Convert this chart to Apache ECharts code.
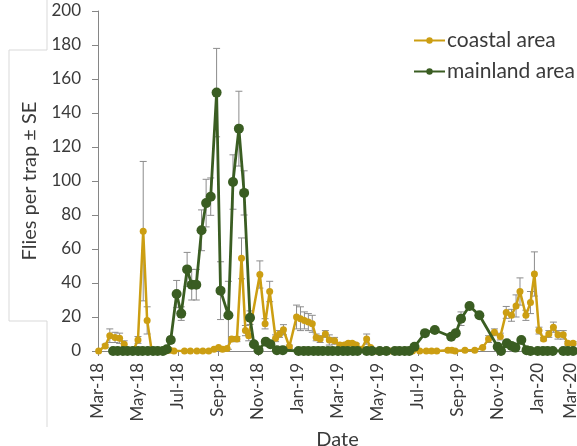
<!DOCTYPE html>
<html>
<head>
<meta charset="utf-8">
<script src="https://cdn.jsdelivr.net/npm/echarts@6/dist/echarts.min.js"></script>
<style>
html,body{margin:0;padding:0;background:#fff;}
#chart{width:577px;height:446px;}
</style>
</head>
<body>
<div id="chart"></div>
<script>
// ---- data ----
const seriesNames = ['coastal area', 'mainland area'];
const monthNames = ['Jan','Feb','Mar','Apr','May','Jun','Jul','Aug','Sep','Oct','Nov','Dec'];
const axisStart = '2018-03-01';
const axisEnd = '2020-03-01';
const tickStepDays = 61;
const yTicks = { min: 0, max: 200, step: 20 };

const coastalDates = ['2018-03-02','2018-03-12','2018-03-19','2018-03-27','2018-04-03','2018-04-10','2018-04-17','2018-04-24','2018-05-01','2018-05-09','2018-05-15','2018-05-22','2018-05-29','2018-06-05','2018-06-12','2018-06-19','2018-06-25','2018-07-11','2018-07-20','2018-07-30','2018-08-08','2018-08-17','2018-08-25','2018-09-01','2018-09-07','2018-09-14','2018-09-21','2018-09-29','2018-10-06','2018-10-12','2018-10-17','2018-11-03','2018-11-11','2018-11-18','2018-11-27','2018-12-03','2018-12-09','2018-12-18','2018-12-29','2019-01-04','2019-01-10','2019-01-16','2019-01-22','2019-01-28','2019-02-03','2019-02-11','2019-02-17','2019-02-25','2019-03-05','2019-03-12','2019-03-18','2019-03-24','2019-03-30','2019-04-07','2019-04-15','2019-04-21','2019-04-28','2019-05-06','2019-05-13','2019-05-20','2019-05-27','2019-06-03','2019-06-10','2019-06-17','2019-06-24','2019-07-05','2019-07-15','2019-07-23','2019-07-31','2019-08-17','2019-08-23','2019-08-28','2019-09-12','2019-09-27','2019-10-09','2019-10-18','2019-10-27','2019-11-05','2019-11-14','2019-11-22','2019-11-29','2019-12-05','2019-12-14','2019-12-21','2019-12-27','2020-01-03','2020-01-10','2020-01-18','2020-01-25','2020-02-01','2020-02-09','2020-02-16','2020-02-24'];
const coastalValues = [0,3,9,8,7.5,4,0.5,0.5,6.5,70.5,18,0,0,0,0,0.5,0,0,0,0,0,0,1,2,1,1.5,7,7,54.5,12,9,45,16,35,7.5,10,12.5,2.5,20,19,18,17,16,8,7,10,6.5,6,3.5,3.5,4.5,4.5,3.5,1,7,2,0,0,0,0,0,0,0,0,0,0,0,0,0,0.5,0.5,0,0.5,0.5,2,7,11,8.5,22.7,21,26.5,35,21,28.5,45.3,12,7,10,14,9.5,9.5,4.5,4.5];
const coastalSE = [0,1,4,3,3,2,0,0,2,41,8,0,0,0,0,0,0,0,0,0,0,0,0,0,0,0,1.5,1.5,12,3,3,8,3,6,2,2,3,1,7,7,5,5,5,2,2,2,3,2,1,1,1,1,1,0,3,0,0,0,0,0,0,0,0,0,0,0,0,0,0,0,0,0,0,0,0.5,2,2,2,3.5,3.5,6.5,8,3,6.5,13,2,1,2,3,2.5,2.5,1,1];

const mainlandDates = ['2018-03-24','2018-03-31','2018-04-08','2018-04-15','2018-04-23','2018-05-01','2018-05-08','2018-05-16','2018-05-24','2018-05-31','2018-06-08','2018-06-14','2018-06-20','2018-06-29','2018-07-06','2018-07-15','2018-07-22','2018-07-29','2018-08-06','2018-08-13','2018-08-20','2018-08-29','2018-09-04','2018-09-16','2018-09-23','2018-10-02','2018-10-10','2018-10-19','2018-10-25','2018-11-01','2018-11-12','2018-11-19','2018-11-29','2018-12-08','2019-01-01','2019-01-09','2019-01-16','2019-01-24','2019-01-31','2019-02-07','2019-02-15','2019-02-22','2019-03-02','2019-03-10','2019-03-17','2019-03-25','2019-04-01','2019-04-15','2019-04-23','2019-05-05','2019-05-15','2019-05-28','2019-06-04','2019-06-12','2019-06-19','2019-06-27','2019-07-13','2019-07-28','2019-08-22','2019-08-29','2019-09-06','2019-09-19','2019-10-04','2019-11-01','2019-11-06','2019-11-15','2019-11-22','2019-11-28','2019-12-07','2019-12-15','2019-12-21','2020-01-01','2020-01-09','2020-01-16','2020-01-24','2020-02-09','2020-02-16','2020-02-24'];
const mainlandValues = [0,0,0,0,0,0,0,0,0,0,0,1,6.5,33.5,22,48,39,39,71,87,90.8,152,35.5,21,99.4,130.8,93,19.6,4,0.5,5.5,4,0.5,0.5,0,0,0,0,0,0,0,0,0,0,0,0,0,0,0,0,0,0,0,0,0,2.5,10.5,12.4,8.4,10.5,19,26.5,21,2.5,0,4.5,3,2,6.5,0.5,0,0,0,0,0,0,0,0];
const mainlandSE = [0,0,0,0,0,0,0,0,0,0,0,0,2,8,4,10,9,9,12,14,11,26,17,20,16,22,13,4,1,0,1,1,0,0,0,0,0,0,0,0,0,0,0,0,0,0,0,0,0,0,0,0,0,0,0,0,1.5,1,1,1,4,2,1,0,0,0,0,0,0,0,0,0,0,0,0,0,0,0];

// ---- helpers ----
const DAY = 86400000;
function parseUTC(s){ const p = s.split('-').map(Number); return Date.UTC(p[0], p[1]-1, p[2]); }
const t0 = parseUTC(axisStart);
function dayOffset(s){ return Math.round((parseUTC(s) - t0) / DAY); }
const maxDay = dayOffset(axisEnd);
function monthLabel(v){
  const d = new Date(t0 + (v + 15) * DAY);
  return monthNames[d.getUTCMonth()] + '-' + String(d.getUTCFullYear()).slice(2);
}

const coastalData = coastalDates.map((d,i)=>[dayOffset(d), coastalValues[i]]);
const mainlandData = mainlandDates.map((d,i)=>[dayOffset(d), mainlandValues[i]]);
const coastalErr = coastalDates.map((d,i)=>[dayOffset(d), coastalValues[i], coastalSE[i]]);
const mainlandErr = mainlandDates.map((d,i)=>[dayOffset(d), mainlandValues[i], mainlandSE[i]]);

const GOLD = '#CC9E12';
const GREEN = '#3A5D22';
const FONT = 'Lato, "Open Sans", sans-serif';
const TXT = '#3A3A3A';

function errRender(params, api){
  const x = api.value(0), y = api.value(1), se = api.value(2);
  if (!se) return null;
  const top = api.coord([x, y + se]);
  const lowV = Math.max(0, y - se);
  const bot = api.coord([x, lowV]);
  const w = 3.5;
  const st = { stroke: '#8C8C8C', lineWidth: 1 };
  const ch = [
    { type: 'line', shape: { x1: top[0], y1: top[1], x2: bot[0], y2: bot[1] }, style: st },
    { type: 'line', shape: { x1: top[0]-w, y1: top[1], x2: top[0]+w, y2: top[1] }, style: st }
  ];
  if (y - se > 0) ch.push({ type: 'line', shape: { x1: bot[0]-w, y1: bot[1], x2: bot[0]+w, y2: bot[1] }, style: st });
  return { type: 'group', children: ch };
}

const chart = echarts.init(document.getElementById('chart'), null, { renderer: 'canvas' });
chart.setOption({
  animation: false,
  backgroundColor: '#fff',
  textStyle: { fontFamily: FONT },
  graphic: [{
    type: 'polyline',
    silent: true,
    z: -10,
    shape: { points: [[47,0],[47,50],[9,50],[9,321],[47,321],[47,427]] },
    style: { stroke: '#D9D9D9', lineWidth: 1, fill: null }
  }],
  grid: { left: 98, right: 0, top: 11, bottom: 95, containLabel: false, outerBoundsMode: 'none' },
  legend: {
    data: seriesNames,
    orient: 'vertical',
    left: 408,
    top: 25,
    itemWidth: 31,
    itemHeight: 8,
    itemGap: 10,
    textStyle: { fontSize: 21, lineHeight: 21, color: TXT, fontFamily: FONT, padding: [0,0,0,-3] }
  },
  xAxis: {
    type: 'value',
    min: 0,
    max: maxDay,
    interval: tickStepDays,
    name: 'Date',
    nameLocation: 'middle',
    nameGap: 78,
    nameTextStyle: { fontSize: 20, color: TXT, fontFamily: FONT },
    axisLine: { show: true, lineStyle: { color: '#868686', width: 1 } },
    axisTick: { show: true, inside: false, length: 5, lineStyle: { color: '#868686' } },
    splitLine: { show: false },
    axisLabel: {
      rotate: 90,
      margin: 12,
      fontSize: 17,
      color: TXT,
      fontFamily: FONT,
      showMinLabel: true,
      showMaxLabel: true,
      formatter: function(v){
        const s = monthLabel(v);
        return v >= maxDay ? '{last|' + s + '}' : s;
      },
      rich: { last: { fontSize: 17, color: TXT, fontFamily: FONT, padding: [0,0,12,0] } }
    }
  },
  yAxis: {
    type: 'value',
    min: yTicks.min,
    max: yTicks.max,
    interval: yTicks.step,
    name: 'Flies per trap ± SE',
    nameLocation: 'middle',
    nameGap: 58,
    nameTextStyle: { fontSize: 20, color: TXT, fontFamily: FONT, padding: [0,0,0,0] },
    axisLine: { show: true, lineStyle: { color: '#868686', width: 1 } },
    axisTick: { show: true, inside: false, length: 6, lineStyle: { color: '#868686' } },
    splitLine: { show: false },
    axisLabel: { fontSize: 17, color: TXT, fontFamily: FONT, margin: 17 }
  },
  series: [
    { type: 'custom', name: 'coastal SE', renderItem: errRender, data: coastalErr, z: 1, silent: true, encode: { x: 0, y: 1 } },
    { type: 'custom', name: 'mainland SE', renderItem: errRender, data: mainlandErr, z: 1, silent: true, encode: { x: 0, y: 1 } },
    {
      type: 'line', name: seriesNames[0], data: coastalData, z: 3,
      symbol: 'circle', symbolSize: 7, showAllSymbol: true,
      lineStyle: { color: GOLD, width: 2.5 },
      itemStyle: { color: GOLD, borderWidth: 0 }
    },
    {
      type: 'line', name: seriesNames[1], data: mainlandData, z: 4,
      symbol: 'circle', symbolSize: 10, showAllSymbol: true,
      lineStyle: { color: GREEN, width: 2.8 },
      itemStyle: { color: GREEN, borderWidth: 0 }
    }
  ]
});
</script>
</body>
</html>
